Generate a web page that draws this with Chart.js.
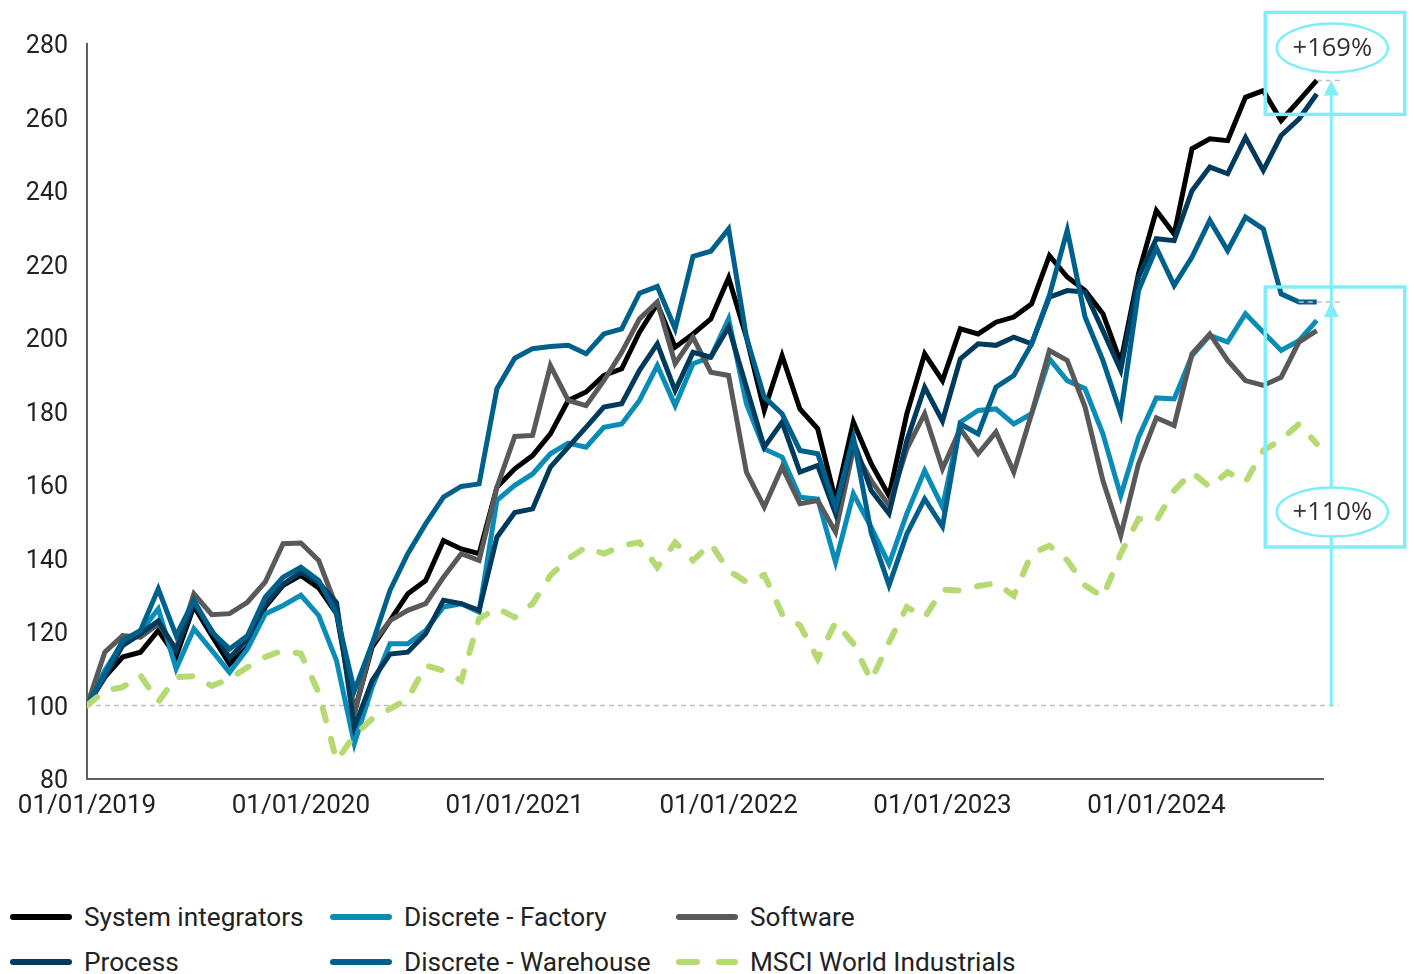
<!DOCTYPE html>
<html>
<head>
<meta charset="utf-8">
<script src="https://cdn.jsdelivr.net/npm/chart.js@4"></script>
<style>
  html, body { margin: 0; padding: 0; background: #fff; }
  #wrap { position: relative; width: 1414px; height: 974px; overflow: hidden; }
  #box { position: absolute; left: 0; top: 0; width: 1414px; height: 860px; }
  .item { position: absolute; height: 40px; display: flex; align-items: center;
          font-family: Roboto, sans-serif; font-size: 26.2px; color: #222; white-space: nowrap; }
  .item svg { margin-right: 7px; }
</style>
</head>
<body>
<div id="wrap">
  <div id="box"><canvas id="myChart"></canvas></div>
  <div id="legend"></div>
</div>
<script>
// monthly index values, 01/2019 = 100
const startYear = 2019;

const systemIntegrators = [100, 107.7, 113.2, 114.5, 120.4, 113.3, 127, 119, 111.3, 115.9, 126.8, 132.7,
  135.4, 132, 125, 98.2, 115.9, 123.1, 130.4, 134, 144.9, 142.6, 141.3, 159.4,
  164.4, 168, 173.9, 183, 185.3, 189.8, 191.6, 201.6, 209.3, 197.5, 201.1, 205.2,
  216.4, 200.2, 180.3, 195.2, 180.7, 175.3, 155.8, 177.1, 165.8, 157.1, 179.4, 195.7,
  188.4, 202.5, 201.1, 204.3, 205.7, 209.3, 222.4, 216.6, 212.9, 206.6, 193.4, 217.5,
  234.7, 228.3, 251.5, 254.2, 253.7, 265.5, 267.3, 259.2, 264.6, 270.1];

const discreteFactory = [100, 109.5, 117.2, 120, 126.3, 110, 120.9, 115, 109, 115.4, 124.9, 127.2,
  130, 124.5, 112.2, 89.6, 105, 116.8, 116.8, 120.4, 126.8, 127.7, 125.4, 155.8,
  159.9, 163, 168.5, 171.4, 170.3, 175.7, 176.6, 183, 192.5, 181.6, 193, 194.8,
  205.2, 182.1, 169.8, 167.6, 156.7, 156.2, 139, 157.6, 148.5, 138.5, 152.2, 163.9,
  154, 177.1, 180.3, 180.7, 176.6, 179.4, 194.3, 188.4, 186.2, 173.9, 157.1, 173,
  183.7, 183.4, 195.2, 200.7, 198.9, 206.6, 201.6, 196.6, 199.3, 204.8];

const software = [100, 114.5, 119, 118.6, 122.2, 115.4, 130.4, 124.7, 125, 128.1, 133.6, 144,
  144.2, 139.5, 126.8, 97.7, 116.8, 123.1, 125.9, 127.7, 134.9, 141.3, 139.5, 159.4,
  173.2, 173.5, 192.5, 183, 181.6, 188.4, 196.1, 205.2, 209.8, 193, 200.2, 190.7,
  189.8, 163.5, 154, 164.9, 154.9, 155.8, 147.2, 169.8, 161.2, 154.4, 169.8, 179.4,
  164.4, 175.3, 168.5, 174.4, 163.5, 179.4, 196.6, 193.9, 181.2, 161.2, 146.3, 165.8,
  178.3, 176.2, 195.7, 201.1, 193.9, 188.4, 187.1, 189.3, 198.9, 202];

const processSeries = [100, 107.7, 116.3, 119.5, 123, 115, 128, 120.4, 113, 118, 127.5, 133,
  136.3, 133.5, 128, 94, 106.8, 114, 114.5, 119.5, 128.6, 127.7, 125.9, 145.8,
  152.5, 153.5, 164.9, 170.3, 175.7, 181.2, 182.1, 191.2, 198.4, 185.7, 196.1, 194.8,
  203, 186.6, 170.3, 177.1, 163.5, 165.3, 152.2, 172.1, 158.5, 152.2, 172.1, 186.6,
  177.4, 194.3, 198.4, 198, 200.2, 198.4, 211.1, 212.9, 212.5, 202, 191.2, 216.6,
  227, 226.5, 240.1, 246.5, 244.7, 254.6, 245.6, 255.1, 259.6, 266.4];

const discreteWarehouse = [100, 108.6, 117.7, 120.4, 131.7, 119, 128.6, 120, 115.4, 119, 129.5, 134.9,
  137.6, 134, 125, 104, 116.8, 131.3, 141.3, 149.4, 156.7, 159.6, 160.3, 186.2,
  194.5, 197.1, 197.7, 198, 195.7, 201.1, 202.5, 212.2, 214, 202.5, 222.2, 223.6,
  229.7, 200.2, 183.9, 179.4, 169.4, 168.5, 154, 173, 147, 132.7, 146.7, 156.2,
  148.7, 176.6, 173.9, 186.6, 189.8, 198.4, 211.6, 229.3, 205.7, 193.9, 179.4, 212.9,
  224.5, 214.3, 222, 232, 223.8, 232.9, 229.7, 212, 209.8, 209.8];

const msciWorldIndustrials = [100, 104, 105, 108.2, 101, 107.7, 108, 105.3, 107.3, 110.4, 113.2, 115,
  114.1, 103.5, 85, 91.8, 96.4, 99.1, 101.8, 110.9, 109.5, 106.8, 123.6, 126.5,
  124, 127.7, 135.4, 139.9, 143.1, 141.3, 143.5, 144.4, 137.6, 144.4, 139.5, 144,
  136.7, 133.6, 135.5, 124.9, 121.8, 112.7, 122.7, 116.8, 106.8, 117.2, 126.8, 124,
  131.5, 131.3, 132.5, 133.3, 129.9, 141.3, 143.5, 139.5, 132.7, 129.5, 141.3, 150.8,
  150.3, 158.5, 163.5, 159.4, 163.5, 160.8, 169.4, 172.3, 176.6, 171.2];

const yTicks = [80, 100, 120, 140, 160, 180, 200, 220, 240, 260, 280];

// growth labels shown in the two callout boxes
const growthLabels = ['+169%', '+110%'];

const series = [
  { label: 'System integrators', data: systemIntegrators, color: '#000000', order: 6 },
  { label: 'Discrete - Factory', data: discreteFactory, color: '#0a8cb8', order: 5 },
  { label: 'Software', data: software, color: '#595959', order: 4 },
  { label: 'Process', data: processSeries, color: '#003a5c', order: 3 },
  { label: 'Discrete - Warehouse', data: discreteWarehouse, color: '#00608c', order: 2 },
  { label: 'MSCI World Industrials', data: msciWorldIndustrials, color: '#b6da72', order: 1, dash: true }
];

const CYAN = '#80eef9';

// reference line at 100, the two end markers, arrow, boxes and labels
const annotations = {
  id: 'annotations',
  beforeDatasetsDraw(chart) {
    const { ctx, scales: { x, y } } = chart;
    const y100 = y.getPixelForValue(100);
    ctx.save();
    ctx.strokeStyle = '#bdbdbd';
    ctx.lineWidth = 1.5;
    ctx.setLineDash([5, 4]);
    ctx.beginPath();
    ctx.moveTo(x.left, y100);
    ctx.lineTo(x.getPixelForValue(69) + 22, y100);
    ctx.stroke();
    ctx.restore();
  },
  afterDatasetsDraw(chart) {
    const { ctx, scales: { x, y } } = chart;
    const last = systemIntegrators.length - 1;
    const xEnd = x.getPixelForValue(last);
    const ax = xEnd + 14.5;
    const y100 = y.getPixelForValue(100);
    const tipTop = y.getPixelForValue(systemIntegrators[last]);
    const tipMid = y.getPixelForValue(discreteWarehouse[last]);

    ctx.save();
    // small dashed end markers
    ctx.strokeStyle = '#bdbdbd';
    ctx.lineWidth = 1.5;
    ctx.setLineDash([5, 4]);
    ctx.beginPath();
    ctx.moveTo(xEnd, tipTop); ctx.lineTo(ax + 9, tipTop);
    ctx.moveTo(xEnd - 18, tipMid); ctx.lineTo(ax + 9, tipMid);
    ctx.stroke();
    ctx.setLineDash([]);

    // vertical arrow
    ctx.strokeStyle = CYAN;
    ctx.fillStyle = CYAN;
    ctx.lineWidth = 3;
    ctx.beginPath();
    ctx.moveTo(ax, y100);
    ctx.lineTo(ax, tipTop + 10);
    ctx.stroke();
    [tipTop, tipMid].forEach(t => {
      ctx.beginPath();
      ctx.moveTo(ax, t);
      ctx.lineTo(ax + 7.5, t + 15);
      ctx.lineTo(ax - 7.5, t + 15);
      ctx.closePath();
      ctx.fill();
    });

    // boxes
    ctx.lineWidth = 3.5;
    ctx.strokeRect(ax - 66, tipTop - 68, 139.5, 102);
    ctx.strokeRect(ax - 66, tipMid - 15, 139.5, 260);

    // ellipses with labels
    const spots = [tipTop - 32.5, tipMid + 210];
    spots.forEach((cy, i) => {
      ctx.beginPath();
      ctx.ellipse(ax + 1, cy, 55.5, 24.5, 0, 0, Math.PI * 2);
      ctx.fillStyle = '#ffffff';
      ctx.fill();
      ctx.lineWidth = 2.5;
      ctx.strokeStyle = CYAN;
      ctx.stroke();
      ctx.fillStyle = '#333333';
      ctx.font = '25.5px "Open Sans"';
      ctx.textAlign = 'center';
      ctx.textBaseline = 'middle';
      ctx.fillText(growthLabels[i], ax + 1, cy + 1);
    });
    ctx.restore();
  }
};

const ctx = document.getElementById('myChart').getContext('2d');

const data = {
  datasets: series.map(s => ({
    label: s.label,
    data: s.data.map((v, i) => ({ x: i, y: v })),
    borderColor: s.color,
    backgroundColor: s.color,
    borderWidth: s.dash ? 6 : 5,
    borderDash: s.dash ? [13, 19] : [],
    borderCapStyle: s.dash ? 'round' : 'butt',
    pointRadius: 0,
    tension: 0,
    order: s.order
  }))
};

const config = {
  type: 'line',
  data: data,
  plugins: [annotations],
  options: {
    responsive: true,
    maintainAspectRatio: false,
    animation: false,
    layout: { padding: { left: 0, right: 91, top: 44, bottom: 0 } },
    plugins: { legend: { display: false }, tooltip: { enabled: false } },
    scales: {
      x: {
        type: 'linear',
        min: 0,
        max: 69.35,
        afterBuildTicks: scale => {
          scale.ticks = scale.ticks.filter(t => t.value % 12 === 0);
        },
        afterFit: scale => { scale.height = 81; },
        grid: { display: false, drawTicks: false },
        border: { display: true, color: '#5f5f5f', width: 2 },
        ticks: {
          stepSize: 12,
          maxRotation: 0,
          padding: 12,
          color: '#222',
          font: { family: 'Roboto', size: 26 },
          callback: v => '01/01/' + (startYear + v / 12)
        }
      },
      y: {
        min: yTicks[0],
        max: yTicks[yTicks.length - 1],
        afterBuildTicks: scale => {
          scale.ticks = yTicks.map(v => ({ value: v }));
        },
        afterFit: scale => { scale.width = 87; },
        grid: { display: false, drawTicks: false },
        border: { display: true, color: '#5f5f5f', width: 2 },
        ticks: {
          padding: 19,
          labelOffset: 3,
          color: '#222',
          font: { family: 'Roboto', size: 25 }
        }
      }
    }
  }
};

const myChart = new Chart(ctx, config);

// legend in three columns, same order as the original
const legendCols = [7, 327, 673];
const legendRows = [897, 942];
const legendEl = document.getElementById('legend');
series.forEach((s, i) => {
  const item = document.createElement('div');
  item.className = 'item';
  item.style.left = legendCols[i % 3] + 'px';
  item.style.top = legendRows[Math.floor(i / 3)] + 'px';
  const dash = s.dash ? ' stroke-dasharray="18 22"' : '';
  item.innerHTML = '<svg width="70" height="12"><line x1="6" y1="6" x2="62" y2="6" stroke="' + s.color +
    '" stroke-width="6" stroke-linecap="round"' + dash + '/></svg><span>' + s.label + '</span>';
  legendEl.appendChild(item);
});
</script>
</body>
</html>
